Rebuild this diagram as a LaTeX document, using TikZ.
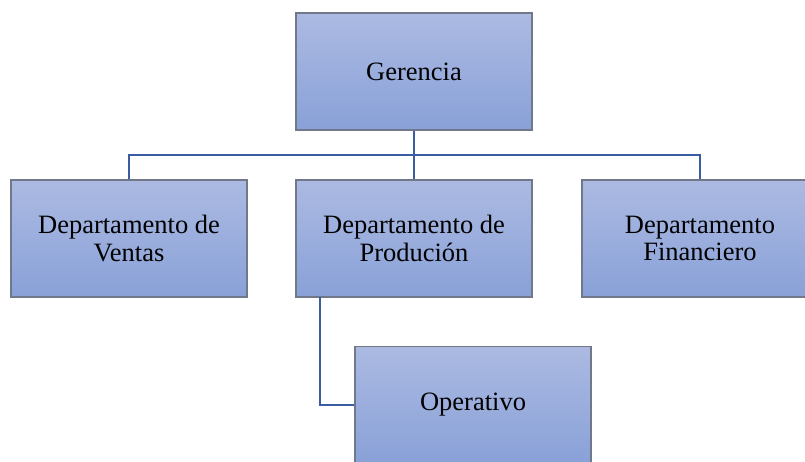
\documentclass[tikz,border=0pt]{standalone}
\usepackage{fontspec}
\setmainfont{Liberation Serif}
\definecolor{boxtop}{RGB}{172,186,226}
\definecolor{boxbot}{RGB}{137,161,216}
\definecolor{boxline}{RGB}{112,120,138}
\definecolor{conn}{RGB}{58,92,162}
\tikzset{
  orgbox/.style={draw=boxline, line width=1.4pt, top color=boxtop, bottom color=boxbot,
    minimum width=236pt, minimum height=117pt, align=center, inner sep=0pt,
    font=\fontsize{26.5}{27.5}\selectfont},
  link/.style={draw=conn, line width=2.4pt}
}
\begin{document}
\begin{tikzpicture}[x=1pt,y=-1pt]
\useasboundingbox (0,0) rectangle (805,462);
\clip (0,0) rectangle (805,462);
\node[orgbox] (ger) at (414,71.5) {Gerencia};
\node[orgbox] (ven) at (129,238.5) {Departamento de\\Ventas};
\node[orgbox] (pro) at (414,238.5) {Departamento de\\Produción};
\node[orgbox] (fin) at (700,238.5) {Departamento\\Financiero};
\node[orgbox] (ope) at (473,405) {Operativo};
\coordinate (bus) at (414,155);
\draw[link] (ger.south) -- (bus);
\draw[link] (ven.north) |- (bus) -| (fin.north);
\draw[link] (bus) -- (pro.north);
\coordinate (pl) at (320,297);
\draw[link] (pl) |- (ope.west);
\end{tikzpicture}
\end{document}
